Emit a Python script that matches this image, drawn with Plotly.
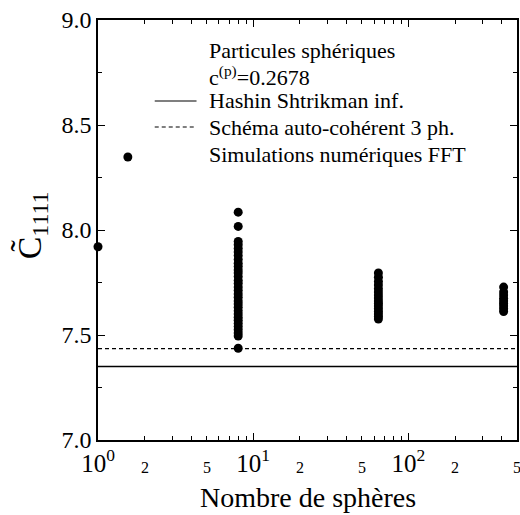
import math
import plotly.graph_objects as go

# ---- data ----
n_single = [1]
c_single = [7.92]

n8_vals = [8.085, 8.017, 7.945, 7.930, 7.912, 7.895, 7.878, 7.860, 7.842, 7.826,
           7.810, 7.795, 7.778, 7.760, 7.745, 7.728, 7.712, 7.695, 7.680, 7.662,
           7.648, 7.632, 7.615, 7.600, 7.585, 7.570, 7.555, 7.540, 7.525, 7.510,
           7.495, 7.437]
n64_vals = [7.795, 7.775, 7.755, 7.738, 7.720, 7.705, 7.690, 7.676, 7.662, 7.650,
            7.638, 7.625, 7.612, 7.600, 7.588, 7.576]
n410_vals = [7.728, 7.705, 7.690, 7.675, 7.662, 7.650, 7.638, 7.625, 7.612]

hashin_shtrikman = 7.35
auto_coherent = 7.435

x_range = [1, 500]
y_ticks = [7.0, 7.5, 8.0, 8.5, 9.0]
x_major = [1, 10, 100]
x_major_text = ["10<sup>0</sup>", "10<sup>1</sup>", "10<sup>2</sup>"]
x_minor_labels = [2, 5, 20, 50, 200, 500]
x_minor_label_text = ["2", "5", "2", "5", "2", "5"]
x_minor_ticks = [2, 3, 4, 5, 6, 7, 8, 9, 20, 30, 40, 50, 60, 70, 80, 90, 200, 300, 400, 500]

legend_title1 = "Particules sphériques"
legend_title2 = "c<sup>(p)</sup>=0.2678"
legend_hs = "Hashin Shtrikman inf."
legend_ac = "Schéma auto-cohérent 3 ph."
legend_fft = "Simulations numériques FFT"

FONT = "Liberation Serif"

xs = n_single + [8] * len(n8_vals) + [64] * len(n64_vals) + [410] * len(n410_vals)
ys = c_single + n8_vals + n64_vals + n410_vals

fig = go.Figure()
fig.add_trace(go.Scatter(x=xs, y=ys, mode="markers",
                         marker=dict(size=9, color="black", line=dict(width=0)),
                         cliponaxis=False, showlegend=False))

# horizontal reference lines
fig.add_shape(type="line", xref="paper", x0=0, x1=1, yref="y",
              y0=hashin_shtrikman, y1=hashin_shtrikman,
              line=dict(color="black", width=1.5))
fig.add_shape(type="line", xref="paper", x0=0, x1=1, yref="y",
              y0=auto_coherent, y1=auto_coherent,
              line=dict(color="black", width=1.2, dash="4px,3px"))

W, H = 520, 515
L, R, T, B = 98, 1, 20, 75
pw, ph = W - L - R, H - T - B

def px(x):
    return (x - L) / pw

def py(y):
    return (H - B - y) / ph

annotations = []
# legend texts
tx = px(208)
for txt, yy in [(legend_title1, 51), (legend_title2, 76), (legend_hs, 101),
                (legend_ac, 127), (legend_fft, 154)]:
    annotations.append(dict(text=txt, x=tx, y=py(yy), xref="paper", yref="paper",
                            xanchor="left", yanchor="middle", showarrow=False,
                            font=dict(family=FONT, size=22, color="black")))
# legend samples
fig.add_shape(type="line", xref="paper", yref="paper", x0=px(155), x1=px(197),
              y0=py(101), y1=py(101), line=dict(color="black", width=1.2))
fig.add_shape(type="line", xref="paper", yref="paper", x0=px(155), x1=px(197),
              y0=py(127), y1=py(127), line=dict(color="black", width=1.2, dash="4px,3px"))
r = 4.5
fig.add_shape(type="circle", xref="paper", yref="paper",
              x0=px(128 - r), x1=px(128 + r), y0=py(157 + r), y1=py(157 - r),
              fillcolor="black", line=dict(width=0))

# minor x labels
for v, t in zip(x_minor_labels, x_minor_label_text):
    annotations.append(dict(text=t, x=math.log10(v), y=0,
                            xref="x", yref="paper", xanchor="center", yanchor="middle",
                            yshift=-27, showarrow=False,
                            font=dict(family=FONT, size=16, color="black")))
# axis titles
annotations.append(dict(text="Nombre de sphères", x=0.5, y=0, xref="paper", yref="paper",
                        xanchor="center", yanchor="middle", yshift=-57, showarrow=False,
                        font=dict(family=FONT, size=28, color="black")))
annotations.append(dict(text="C\u0303<sub>1111</sub>", x=px(31), y=py(225),
                        xref="paper", yref="paper", xanchor="center", yanchor="middle",
                        textangle=-90, showarrow=False,
                        font=dict(family=FONT, size=34, color="black")))

fig.update_layout(
    width=W, height=H,
    margin=dict(l=L, r=R, t=T, b=B),
    paper_bgcolor="white", plot_bgcolor="white",
    showlegend=False,
    font=dict(family=FONT, color="black"),
    annotations=annotations,
    xaxis=dict(type="log", range=[math.log10(x_range[0]), math.log10(x_range[1])],
               tickmode="array", tickvals=x_major, ticktext=x_major_text,
               ticks="inside", ticklen=7, tickwidth=1, tickcolor="black",
               minor=dict(tickmode="array", tickvals=x_minor_ticks, ticks="inside",
                          ticklen=4, tickwidth=1, tickcolor="black", showgrid=False),
               showline=True, linecolor="black", linewidth=1.5, mirror="allticks",
               showgrid=False, zeroline=False,
               tickfont=dict(family=FONT, size=25, color="black")),
    yaxis=dict(range=[7.0, 9.0], tickmode="array", tickvals=y_ticks,
               ticktext=[f"{v:.1f}" for v in y_ticks],
               ticks="inside", ticklen=7, tickwidth=1, tickcolor="black",
               minor=dict(dtick=0.25, ticks="inside", ticklen=4, tickwidth=1,
                          tickcolor="black", showgrid=False),
               showline=True, linecolor="black", linewidth=1.5, mirror="allticks",
               showgrid=False, zeroline=False,
               tickfont=dict(family=FONT, size=24, color="black")),
)

fig.write_html("out.html")
